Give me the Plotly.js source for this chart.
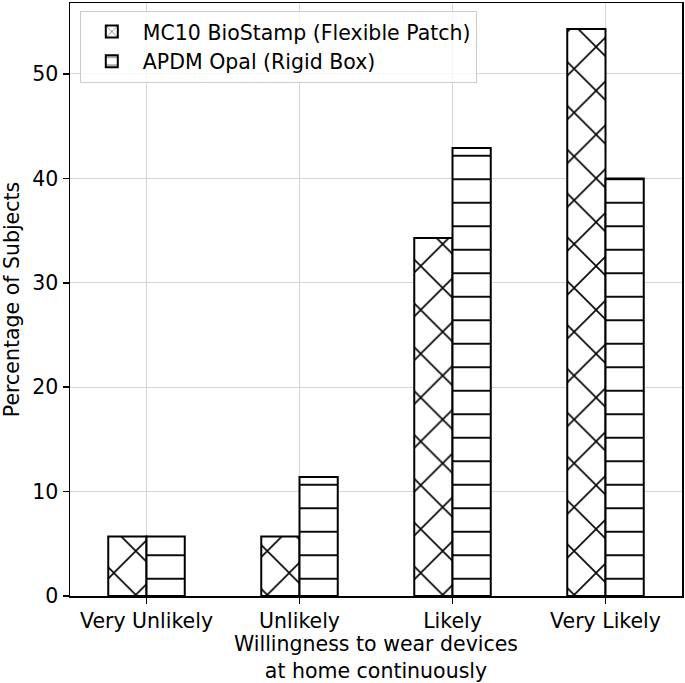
<!DOCTYPE html>
<html>
<head>
<meta charset="utf-8">
<script src="https://cdn.plot.ly/plotly-3.0.1.min.js"></script>
<style>html,body{margin:0;padding:0;background:#fff;}#chart{width:685px;height:683px;}</style>
</head>
<body>
<div id="chart"></div>
<script>
const categories = ["Very Unlikely", "Unlikely", "Likely", "Very Likely"];
const seriesNames = ["MC10 BioStamp (Flexible Patch)", "APDM Opal (Rigid Box)"];
const mc10Values = [5.7, 5.7, 34.3, 54.3];
const apdmValues = [5.7, 11.4, 42.9, 40.0];
const yTicks = [0, 10, 20, 30, 40, 50];

const font = {family: "DejaVu Sans", size: 20.5, color: "#000"};

const traces = [
  {
    type: "bar", name: seriesNames[0], x: categories, y: mc10Values,
    marker: {color: "#fff", line: {color: "#000", width: 2},
      pattern: {shape: "x", size: 31, solidity: 0.1, fgcolor: "#000", fgopacity: 1, bgcolor: "#fff", fillmode: "overlay"}},
    hoverinfo: "skip"
  },
  {
    type: "bar", name: seriesNames[1], x: categories, y: apdmValues,
    marker: {color: "#fff", line: {color: "#000", width: 2},
      pattern: {shape: "-", size: 23.5, solidity: 0.08, fgcolor: "#000", fgopacity: 1, bgcolor: "#fff", fillmode: "overlay"}},
    hoverinfo: "skip"
  }
];

const layout = {
  width: 685, height: 683,
  margin: {l: 70, r: 3, t: 3, b: 87},
  paper_bgcolor: "#fff", plot_bgcolor: "#fff",
  font: font,
  barmode: "group", bargap: 0.5, bargroupgap: 0,
  showlegend: true,
  legend: {x: 0.016, y: 0.987, xanchor: "left", yanchor: "top",
    bgcolor: "rgba(255,255,255,0.8)", bordercolor: "#ccc", borderwidth: 1,
    itemwidth: 52,
    font: {family: "DejaVu Sans", size: 20.5, color: "#000"}, tracegroupgap: 2},
  xaxis: {
    type: "category", range: [-0.5, 3.5],
    showgrid: true, gridcolor: "#d6d6d6", gridwidth: 1,
    showline: true, linecolor: "#000", linewidth: 1.5, mirror: true,
    ticks: "outside", ticklen: 6, tickwidth: 1.5, tickcolor: "#000",
    tickfont: font, zeroline: false,
    title: {text: "Willingness to wear devices<br>at home continuously", font: font, standoff: 5}
  },
  yaxis: {
    range: [0, 56.8], tickvals: yTicks, ticktext: yTicks.map(String),
    showgrid: true, gridcolor: "#d6d6d6", gridwidth: 1,
    showline: true, linecolor: "#000", linewidth: 1.5, mirror: true,
    ticks: "outside", ticklen: 6, tickwidth: 1.5, tickcolor: "#000",
    tickfont: font, zeroline: false,
    title: {text: "Percentage of Subjects", font: font, standoff: 8}
  }
};

Plotly.newPlot("chart", traces, layout, {staticPlot: true, displayModeBar: false});
</script>
</body>
</html>
